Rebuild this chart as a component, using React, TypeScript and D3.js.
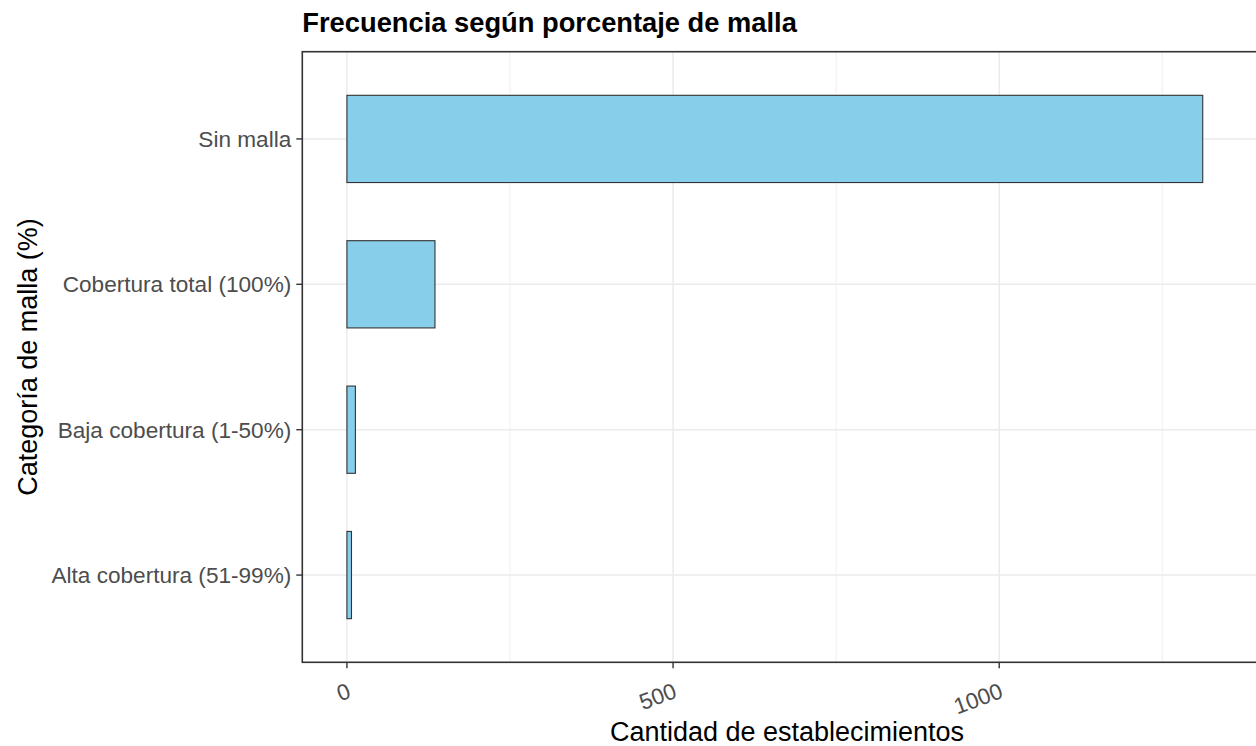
import * as d3 from 'd3';
import { useEffect, useRef } from 'react';

const categories = [
  'Sin malla',
  'Cobertura total (100%)',
  'Baja cobertura (1-50%)',
  'Alta cobertura (51-99%)',
];
const counts = [1312, 135, 13, 7];
const majorTicks = [0, 500, 1000];
const minorTicks = [250, 750, 1250];
const xLimit = 1368;

const FONT = '"Liberation Sans", Arial, sans-serif';

const BarChartFactory = (container: HTMLElement) => {
  const width = 1256;
  const height = 746;
  const left = 302.3;
  const top = 51.7;
  const bottom = 662.3;
  const pxPerUnit = 0.6523;
  const pad = xLimit * 0.05;
  const right = left + (xLimit + 2 * pad) * pxPerUnit;

  const xScale = d3.scaleLinear().domain([-pad, xLimit + pad]).range([left, right]);
  const yScale = d3.scaleBand<string>()
    .domain(categories)
    .range([top, bottom])
    .paddingInner(0.4)
    .paddingOuter(0.3);

  const svg = d3.select(container).append('svg')
    .attr('width', width)
    .attr('height', height)
    .attr('viewBox', `0 0 ${width} ${height}`)
    .style('display', 'block')
    .style('font-family', FONT);

  svg.append('rect').attr('width', width).attr('height', height).attr('fill', '#fff');

  const panel = svg.append('g');
  panel.append('clipPath').attr('id', 'panel-clip')
    .append('rect').attr('x', left).attr('y', top).attr('width', right - left).attr('height', bottom - top);

  const grid = panel.append('g').attr('clip-path', 'url(#panel-clip)');
  grid.selectAll('line.minor').data(minorTicks).join('line')
    .attr('x1', d => xScale(d)).attr('x2', d => xScale(d))
    .attr('y1', top).attr('y2', bottom)
    .attr('stroke', '#ebebeb').attr('stroke-width', 0.8);
  grid.selectAll('line.major').data(majorTicks).join('line')
    .attr('x1', d => xScale(d)).attr('x2', d => xScale(d))
    .attr('y1', top).attr('y2', bottom)
    .attr('stroke', '#ebebeb').attr('stroke-width', 1.5);
  grid.selectAll('line.ymajor').data(categories).join('line')
    .attr('x1', left).attr('x2', right)
    .attr('y1', d => yScale(d)! + yScale.bandwidth() / 2)
    .attr('y2', d => yScale(d)! + yScale.bandwidth() / 2)
    .attr('stroke', '#ebebeb').attr('stroke-width', 1.5);

  panel.selectAll('rect.bar').data(categories).join('rect')
    .attr('x', xScale(0))
    .attr('y', d => yScale(d)!)
    .attr('width', (d, i) => xScale(counts[i]) - xScale(0))
    .attr('height', yScale.bandwidth())
    .attr('fill', '#87ceeb')
    .attr('stroke', '#333')
    .attr('stroke-width', 1.1);

  panel.append('rect')
    .attr('x', left).attr('y', top)
    .attr('width', right - left).attr('height', bottom - top)
    .attr('fill', 'none').attr('stroke', '#333').attr('stroke-width', 1.6);

  // y axis
  const yAxis = svg.append('g');
  categories.forEach(c => {
    const y = yScale(c)! + yScale.bandwidth() / 2;
    yAxis.append('line').attr('x1', left - 6).attr('x2', left).attr('y1', y).attr('y2', y)
      .attr('stroke', '#333').attr('stroke-width', 1.4);
    yAxis.append('text').attr('x', left - 11).attr('y', y).attr('dy', '0.35em')
      .attr('text-anchor', 'end').attr('fill', '#4d4d4d').attr('font-size', 22.6).text(c);
  });

  // x axis
  const xAxis = svg.append('g');
  majorTicks.forEach(t => {
    const x = xScale(t);
    xAxis.append('line').attr('x1', x).attr('x2', x).attr('y1', bottom).attr('y2', bottom + 6)
      .attr('stroke', '#333').attr('stroke-width', 1.4);
    xAxis.append('text')
      .attr('transform', `translate(${x + 5},${bottom + 35}) rotate(-20)`)
      .attr('text-anchor', 'end').attr('fill', '#4d4d4d').attr('font-size', 22.5)
      .text(d3.format('d')(t));
  });

  svg.append('text')
    .attr('x', 787).attr('y', 741)
    .attr('text-anchor', 'middle').attr('font-size', 27).attr('fill', '#000')
    .text('Cantidad de establecimientos');

  svg.append('text')
    .attr('transform', `translate(37,${(top + bottom) / 2}) rotate(-90)`)
    .attr('text-anchor', 'middle').attr('font-size', 27).attr('fill', '#000')
    .text('Categoría de malla (%)');

  svg.append('text')
    .attr('x', left).attr('y', 32)
    .attr('font-size', 27.3).attr('font-weight', 'bold').attr('fill', '#000')
    .text('Frecuencia según porcentaje de malla');

  return svg.node();
};

export default function App() {
  const domRef = useRef<HTMLDivElement>(null);
  useEffect(() => {
    if (domRef.current) {
      BarChartFactory(domRef.current);
    }
    return () => {
      d3.select(domRef.current).selectAll('svg').remove();
    };
  }, [domRef]);
  return <div ref={domRef} style={{ position: 'absolute', left: 0, top: 0 }}></div>;
}
